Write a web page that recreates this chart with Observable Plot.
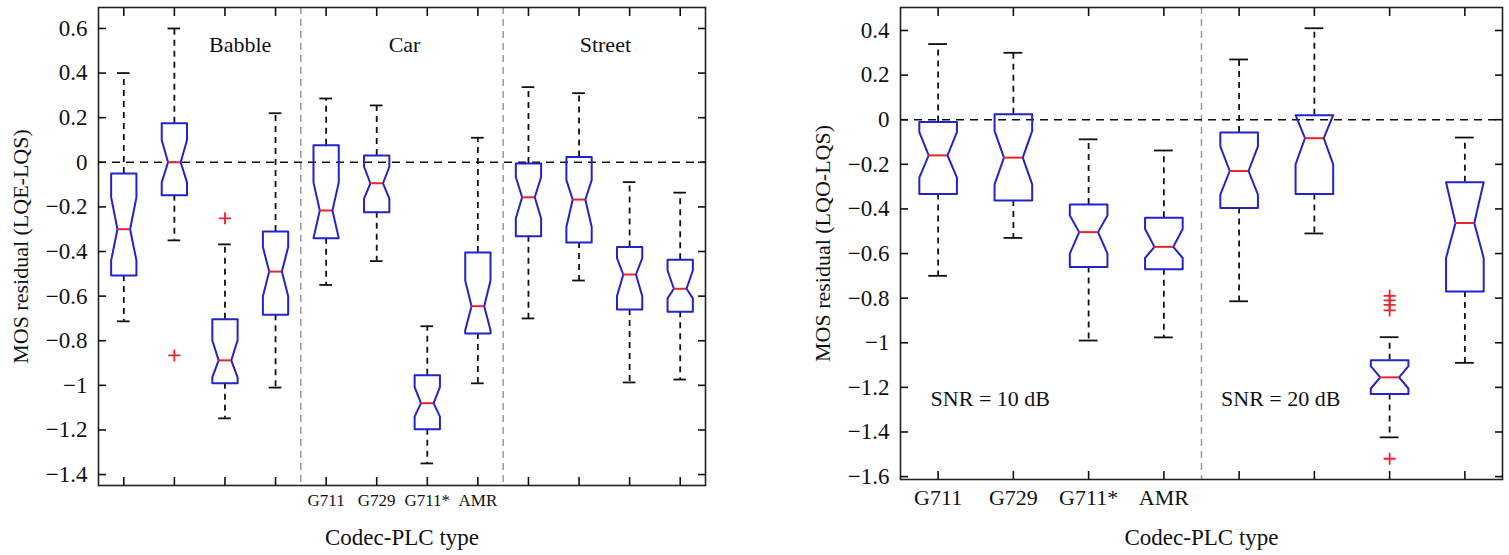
<!DOCTYPE html>
<html>
<head>
<meta charset="utf-8">
<script src="https://cdn.jsdelivr.net/npm/d3@7"></script>
<script src="https://cdn.jsdelivr.net/npm/@observablehq/plot@0.6"></script>
<style>
  body { margin: 0; background: #fff; }
  #wrap { position: relative; width: 1509px; height: 555px; overflow: hidden; }
  #left, #right { position: absolute; top: 0; }
  #left { left: 0; }
  #right { left: 760px; }
  svg { font-family: "Liberation Serif", "DejaVu Serif", serif; }
</style>
</head>
<body>
<div id="wrap"><div id="left"></div><div id="right"></div></div>
<script>
// ---------- Left panel data (12 boxes: Babble, Car, Street × G711, G729, G711*, AMR) ----------
const leftPos      = [1, 2, 3, 4, 5, 6, 7, 8, 9, 10, 11, 12];
const leftWhiskHi  = [0.40, 0.60, -0.368, 0.22, 0.286, 0.255, -0.735, 0.11, 0.337, 0.31, -0.089, -0.136];
const leftQ3       = [-0.05, 0.175, -0.704, -0.31, 0.076, 0.03, -0.955, -0.404, -0.005, 0.024, -0.38, -0.437];
const leftMedian   = [-0.30, 0.0, -0.888, -0.49, -0.216, -0.094, -1.08, -0.645, -0.157, -0.167, -0.503, -0.567];
const leftQ1       = [-0.507, -0.148, -0.991, -0.683, -0.34, -0.224, -1.197, -0.767, -0.332, -0.36, -0.66, -0.67];
const leftWhiskLo  = [-0.713, -0.35, -1.148, -1.01, -0.55, -0.443, -1.35, -0.991, -0.70, -0.53, -0.987, -0.974];
const leftNotchHi  = [-0.157, 0.10, -0.798, -0.38, -0.09, -0.02, -1.008, -0.53, -0.066, -0.08, -0.43, -0.485];
const leftNotchLo  = [-0.44, -0.09, -0.964, -0.60, -0.34, -0.163, -1.14, -0.753, -0.252, -0.29, -0.60, -0.61];
const leftOutX     = [2, 3];
const leftOutY     = [-0.866, -0.251];
const leftTickLabels = ["", "", "", "", "G711", "G729", "G711*", "AMR", "", "", "", ""];
const leftGroups   = ["Babble", "Car", "Street"];
const leftGroupX   = [3.3, 6.55, 10.52];
const leftSeparators = [4.5, 8.5];
const leftYTicks   = [0.6, 0.4, 0.2, 0, -0.2, -0.4, -0.6, -0.8, -1, -1.2, -1.4];

// ---------- Right panel data (8 boxes: SNR 10 dB, SNR 20 dB × G711, G729, G711*, AMR) ----------
const rightPos      = [1, 2, 3, 4, 5, 6, 7, 8];
const rightWhiskHi  = [0.339, 0.30, -0.088, -0.138, 0.27, 0.41, -0.975, -0.08];
const rightQ3       = [-0.01, 0.024, -0.38, -0.44, -0.057, 0.02, -1.078, -0.28];
const rightMedian   = [-0.16, -0.17, -0.504, -0.57, -0.23, -0.083, -1.155, -0.463];
const rightQ1       = [-0.333, -0.362, -0.66, -0.67, -0.396, -0.333, -1.23, -0.77];
const rightWhiskLo  = [-0.70, -0.53, -0.99, -0.976, -0.814, -0.51, -1.424, -1.09];
const rightNotchHi  = [-0.056, -0.05, -0.43, -0.49, -0.12, 0.02, -1.105, -0.28];
const rightNotchLo  = [-0.26, -0.29, -0.60, -0.62, -0.336, -0.20, -1.205, -0.62];
const rightOutX     = [7, 7, 7, 7, 7];
const rightOutY     = [-0.79, -0.81, -0.83, -0.855, -1.52];
const rightTickLabels = ["G711", "G729", "G711*", "AMR", "", "", "", ""];
const rightGroups   = ["SNR = 10 dB", "SNR = 20 dB"];
const rightGroupX   = [0.9, 4.76];
const rightSeparators = [4.5];
const rightYTicks   = [0.4, 0.2, 0, -0.2, -0.4, -0.6, -0.8, -1, -1.2, -1.4, -1.6];

// ---------- styling ----------
const BLUE = "#2323cc";
const RED = "#e8242c";
const HALF = 0.25;      // half box width (x units)
const NOTCH = 0.5;      // notch narrowing ratio
const CAP = 0.125;      // half cap width

function buildBoxes(pos, wHi, q3, med, q1, wLo, nHi, nLo) {
  return pos.map((x, i) => ({x, wHi: wHi[i], q3: q3[i], med: med[i], q1: q1[i], wLo: wLo[i],
    nHi: Math.min(nHi[i], q3[i]), nLo: Math.max(nLo[i], q1[i])}));
}
function outline(boxes) {
  const pts = [];
  boxes.forEach((b, k) => {
    const w = HALF, n = HALF * NOTCH;
    const seq = [
      [b.x - w, b.q3], [b.x - w, b.nHi], [b.x - n, b.med], [b.x - w, b.nLo], [b.x - w, b.q1],
      [b.x + w, b.q1], [b.x + w, b.nLo], [b.x + n, b.med], [b.x + w, b.nHi], [b.x + w, b.q3],
      [b.x - w, b.q3]
    ];
    seq.forEach(([x, y]) => pts.push({x, y, k}));
  });
  return pts;
}

function panel(opts) {
  const boxes = buildBoxes(...opts.series);
  const outs = opts.outX.map((x, i) => ({x, y: opts.outY[i]}));
  const ticksX = opts.pos;
  const tickLab = d => opts.tickLabels[d - 1];
  const yTickFmt = d => (Math.abs(d) < 1e-9 ? "0" : String(d)).replace("-", "\u2212");
  return Plot.plot({
    width: opts.width,
    height: 555,
    marginLeft: opts.mL, marginRight: opts.mR, marginTop: 7, marginBottom: opts.mB,
    style: {fontFamily: '"Liberation Serif", serif', fontSize: "22px", color: "#111", background: "white"},
    x: {domain: [0.5, opts.pos.length + 0.5]},
    y: {domain: opts.yDomain},
    marks: [
      Plot.ruleX(opts.seps, {stroke: "#999", strokeWidth: 1.5, strokeDasharray: "7,5"}),
      Plot.ruleY([0], {stroke: "#111", strokeWidth: 1.6, strokeDasharray: "8,6"}),
      // whiskers
      Plot.ruleX(boxes, {x: "x", y1: "q3", y2: "wHi", stroke: "#111", strokeWidth: 1.8, strokeDasharray: "6,5"}),
      Plot.ruleX(boxes, {x: "x", y1: "q1", y2: "wLo", stroke: "#111", strokeWidth: 1.8, strokeDasharray: "6,5"}),
      Plot.ruleY(boxes, {y: "wHi", x1: d => d.x - CAP, x2: d => d.x + CAP, stroke: "#111", strokeWidth: 1.8}),
      Plot.ruleY(boxes, {y: "wLo", x1: d => d.x - CAP, x2: d => d.x + CAP, stroke: "#111", strokeWidth: 1.8}),
      // notched boxes
      Plot.line(outline(boxes), {x: "x", y: "y", z: "k", stroke: BLUE, strokeWidth: 2, curve: "linear"}),
      // medians
      Plot.ruleY(boxes, {y: "med", x1: d => d.x - HALF * NOTCH, x2: d => d.x + HALF * NOTCH, stroke: RED, strokeWidth: 2}),
      // outliers
      Plot.dot(outs, {x: "x", y: "y", symbol: "plus", r: 4, stroke: RED, strokeWidth: 1.8}),
      // group labels
      Plot.text(opts.groups, {x: (d, i) => opts.groupX[i], y: opts.groupY, text: d => d, textAnchor: opts.groupAnchor, fontSize: 22, fill: "#111"}),
      Plot.frame({stroke: "#222", strokeWidth: 1.6}),
      // tick labels (no visible tick) + inward ticks on all four sides
      Plot.axisY({ticks: opts.yTicks, tickSize: 0, tickPadding: 11, tickFormat: yTickFmt, fontSize: 23, label: null}),
      Plot.axisY({ticks: opts.yTicks, tickSize: -8, tickFormat: () => "", label: null, strokeWidth: 1.6}),
      Plot.axisY({ticks: opts.yTicks, anchor: "right", tickSize: -8, tickFormat: () => "", label: null, strokeWidth: 1.6}),
      Plot.axisX({ticks: ticksX, tickSize: 0, tickPadding: opts.xPad, tickFormat: tickLab, fontSize: opts.xFont, label: null}),
      Plot.axisX({ticks: ticksX, tickSize: -8, tickFormat: () => "", label: null, strokeWidth: 1.6}),
      Plot.axisX({ticks: ticksX, anchor: "top", tickSize: -8, tickFormat: () => "", label: null, strokeWidth: 1.6}),
      // axis titles
      Plot.text([opts.yLabel], {frameAnchor: "left", rotate: -90, dx: -opts.yTitleOff, text: d => d, fontSize: 22, fill: "#111", textAnchor: "middle", lineAnchor: "middle"}),
      Plot.text(["Codec-PLC type"], {frameAnchor: "bottom", dy: opts.xTitleOff, text: d => d, fontSize: 23, fill: "#111", textAnchor: "middle", lineAnchor: "middle"})
    ]
  });
}

const leftChart = panel({
  width: 720, mL: 98, mR: 15, mB: 70,
  yDomain: [-1.449, 0.694],
  series: [leftPos, leftWhiskHi, leftQ3, leftMedian, leftQ1, leftWhiskLo, leftNotchHi, leftNotchLo],
  pos: leftPos, outX: leftOutX, outY: leftOutY, tickLabels: leftTickLabels,
  groups: leftGroups, groupX: leftGroupX, groupY: 0.524, groupAnchor: "middle",
  seps: leftSeparators, yTicks: leftYTicks, yLabel: "MOS residual (LQE-LQS)",
  xFont: 17, xPad: 8, yTitleOff: 78, xTitleOff: 52
});
const rightChart = panel({
  width: 749, mL: 140, mR: 7, mB: 76,
  yDomain: [-1.613, 0.503],
  series: [rightPos, rightWhiskHi, rightQ3, rightMedian, rightQ1, rightWhiskLo, rightNotchHi, rightNotchLo],
  pos: rightPos, outX: rightOutX, outY: rightOutY, tickLabels: rightTickLabels,
  groups: rightGroups, groupX: rightGroupX, groupY: -1.25, groupAnchor: "start",
  seps: rightSeparators, yTicks: rightYTicks, yLabel: "MOS residual (LQO-LQS)",
  xFont: 22, xPad: 10, yTitleOff: 78, xTitleOff: 58
});
document.getElementById("left").appendChild(leftChart);
document.getElementById("right").appendChild(rightChart);
</script>
</body>
</html>
